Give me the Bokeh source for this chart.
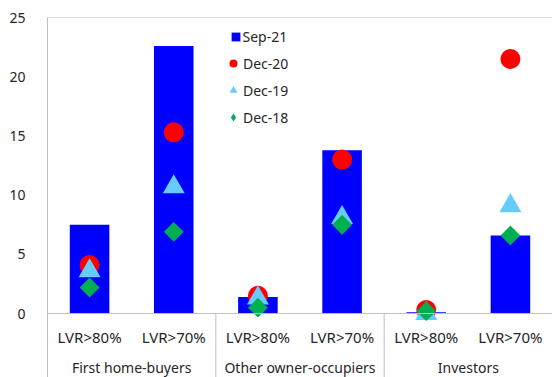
from bokeh.plotting import figure
from bokeh.models import (FactorRange, Range1d, ColumnDataSource, FixedTicker, Span,
                          Legend, LegendItem)
from bokeh.transform import dodge
from bokeh.core.properties import value
from bokeh.embed import file_html
from bokeh.resources import INLINE
import numpy as np

groups = ["First home-buyers", "Other owner-occupiers", "Investors"]
subcats = ["LVR>80%", "LVR>70%"]
sep21 = [7.5, 22.6, 1.4, 13.8, 0.1, 6.6]
dec20 = [4.1, 15.3, 1.5, 13.0, 0.3, 21.5]
dec19 = [3.6, 10.7, 1.3, 8.1, 0.0, 9.1]
dec18 = [2.2, 6.9, 0.5, 7.5, 0.2, 6.6]
y_ticks = [0, 5, 10, 15, 20, 25]

FONT = "Noto Sans"
TXT = "#262626"
GRAY = "#BFBFBF"

factors = [(g, s) for g in groups for s in subcats]
src = ColumnDataSource(dict(x=factors, sep21=sep21, dec20=dec20, dec19=dec19, dec18=dec18,
                            lab=[s for g in groups for s in subcats]))

y_bottom = -5.4
p = figure(width=552, height=377, output_backend="svg", toolbar_location=None,
           x_range=FactorRange(factors=factors, group_padding=0, subgroup_padding=0,
                               factor_padding=0, range_padding=0),
           y_range=Range1d(y_bottom, 25),
           min_border_left=47, min_border_right=0, min_border_top=17, min_border_bottom=0,
           x_axis_location=None)
p.outline_line_color = None
p.xgrid.visible = False
p.ygrid.visible = False

yax = p.yaxis[0]
yax.ticker = FixedTicker(ticks=y_ticks)
yax.axis_line_color = GRAY
yax.major_tick_line_color = None
yax.minor_tick_line_color = None
yax.major_label_standoff = 16
yax.major_label_text_font = FONT
yax.major_label_text_font_size = "14px"
yax.major_label_text_color = TXT

# frame lines
p.add_layout(Span(location=25, dimension="width", line_color=GRAY, line_width=1))
p.add_layout(Span(location=0, dimension="width", line_color=GRAY, line_width=1))

bars = p.vbar(x="x", top="sep21", width=0.47, source=src, fill_color="#0000FF", line_color=None)
c20 = p.scatter(x="x", y="dec20", source=src, marker="circle", size=20,
                fill_color="#FF0000", line_color=None)
c19 = p.scatter(x="x", y="dec19", source=src, marker="triangle", size=22,
                fill_color="#66CCFF", line_color=None)
# legend proxy for the diamonds (fully covered by the rotated squares below)
d18 = p.scatter(x="x", y="dec18", source=src, marker="diamond", size=12,
                fill_color="#00B050", line_color=None)
c18 = p.scatter(x="x", y="dec18", source=src, marker="square", angle=np.pi / 4, size=14,
                fill_color="#00B050", line_color=None)

# category labels
p.text(x="x", y=-2.0, text="lab", source=src, text_font=value(FONT), text_font_size="15px",
       text_color=TXT, text_align="center", text_baseline="middle")

gsrc = ColumnDataSource(dict(x=[(g, subcats[0]) for g in groups], lab=groups))
p.text(x=dodge("x", 0.5, range=p.x_range), y=-4.55, text="lab", source=gsrc,
       text_font=value(FONT), text_font_size="14px", text_color=TXT,
       text_align="center", text_baseline="middle")

ssrc = ColumnDataSource(dict(x=[(g, subcats[0]) for g in groups[1:]]))
p.segment(x0=dodge("x", -0.5, range=p.x_range), y0=0,
          x1=dodge("x", -0.5, range=p.x_range), y1=y_bottom,
          source=ssrc, line_color=GRAY, line_width=1)

common = dict(padding=0, margin=0, label_height=20, label_text_font=FONT,
              label_text_font_size="14px", label_text_color=TXT,
              border_line_color=None, background_fill_alpha=0)

legend1 = Legend(items=[LegendItem(label="Sep-21", renderers=[bars])],
                 location=(182.5, 331), glyph_width=11, glyph_height=11,
                 label_standoff=2, **common)
legend2 = Legend(items=[LegendItem(label="Dec-20", renderers=[c20]),
                        LegendItem(label="Dec-19", renderers=[c19]),
                        LegendItem(label="Dec-18", renderers=[d18])],
                 location=(176, 250), spacing=7, glyph_width=20, glyph_height=20,
                 label_standoff=0, **common)
p.add_layout(legend1)
p.add_layout(legend2)

open("out.html", "w").write(file_html(p, INLINE))
